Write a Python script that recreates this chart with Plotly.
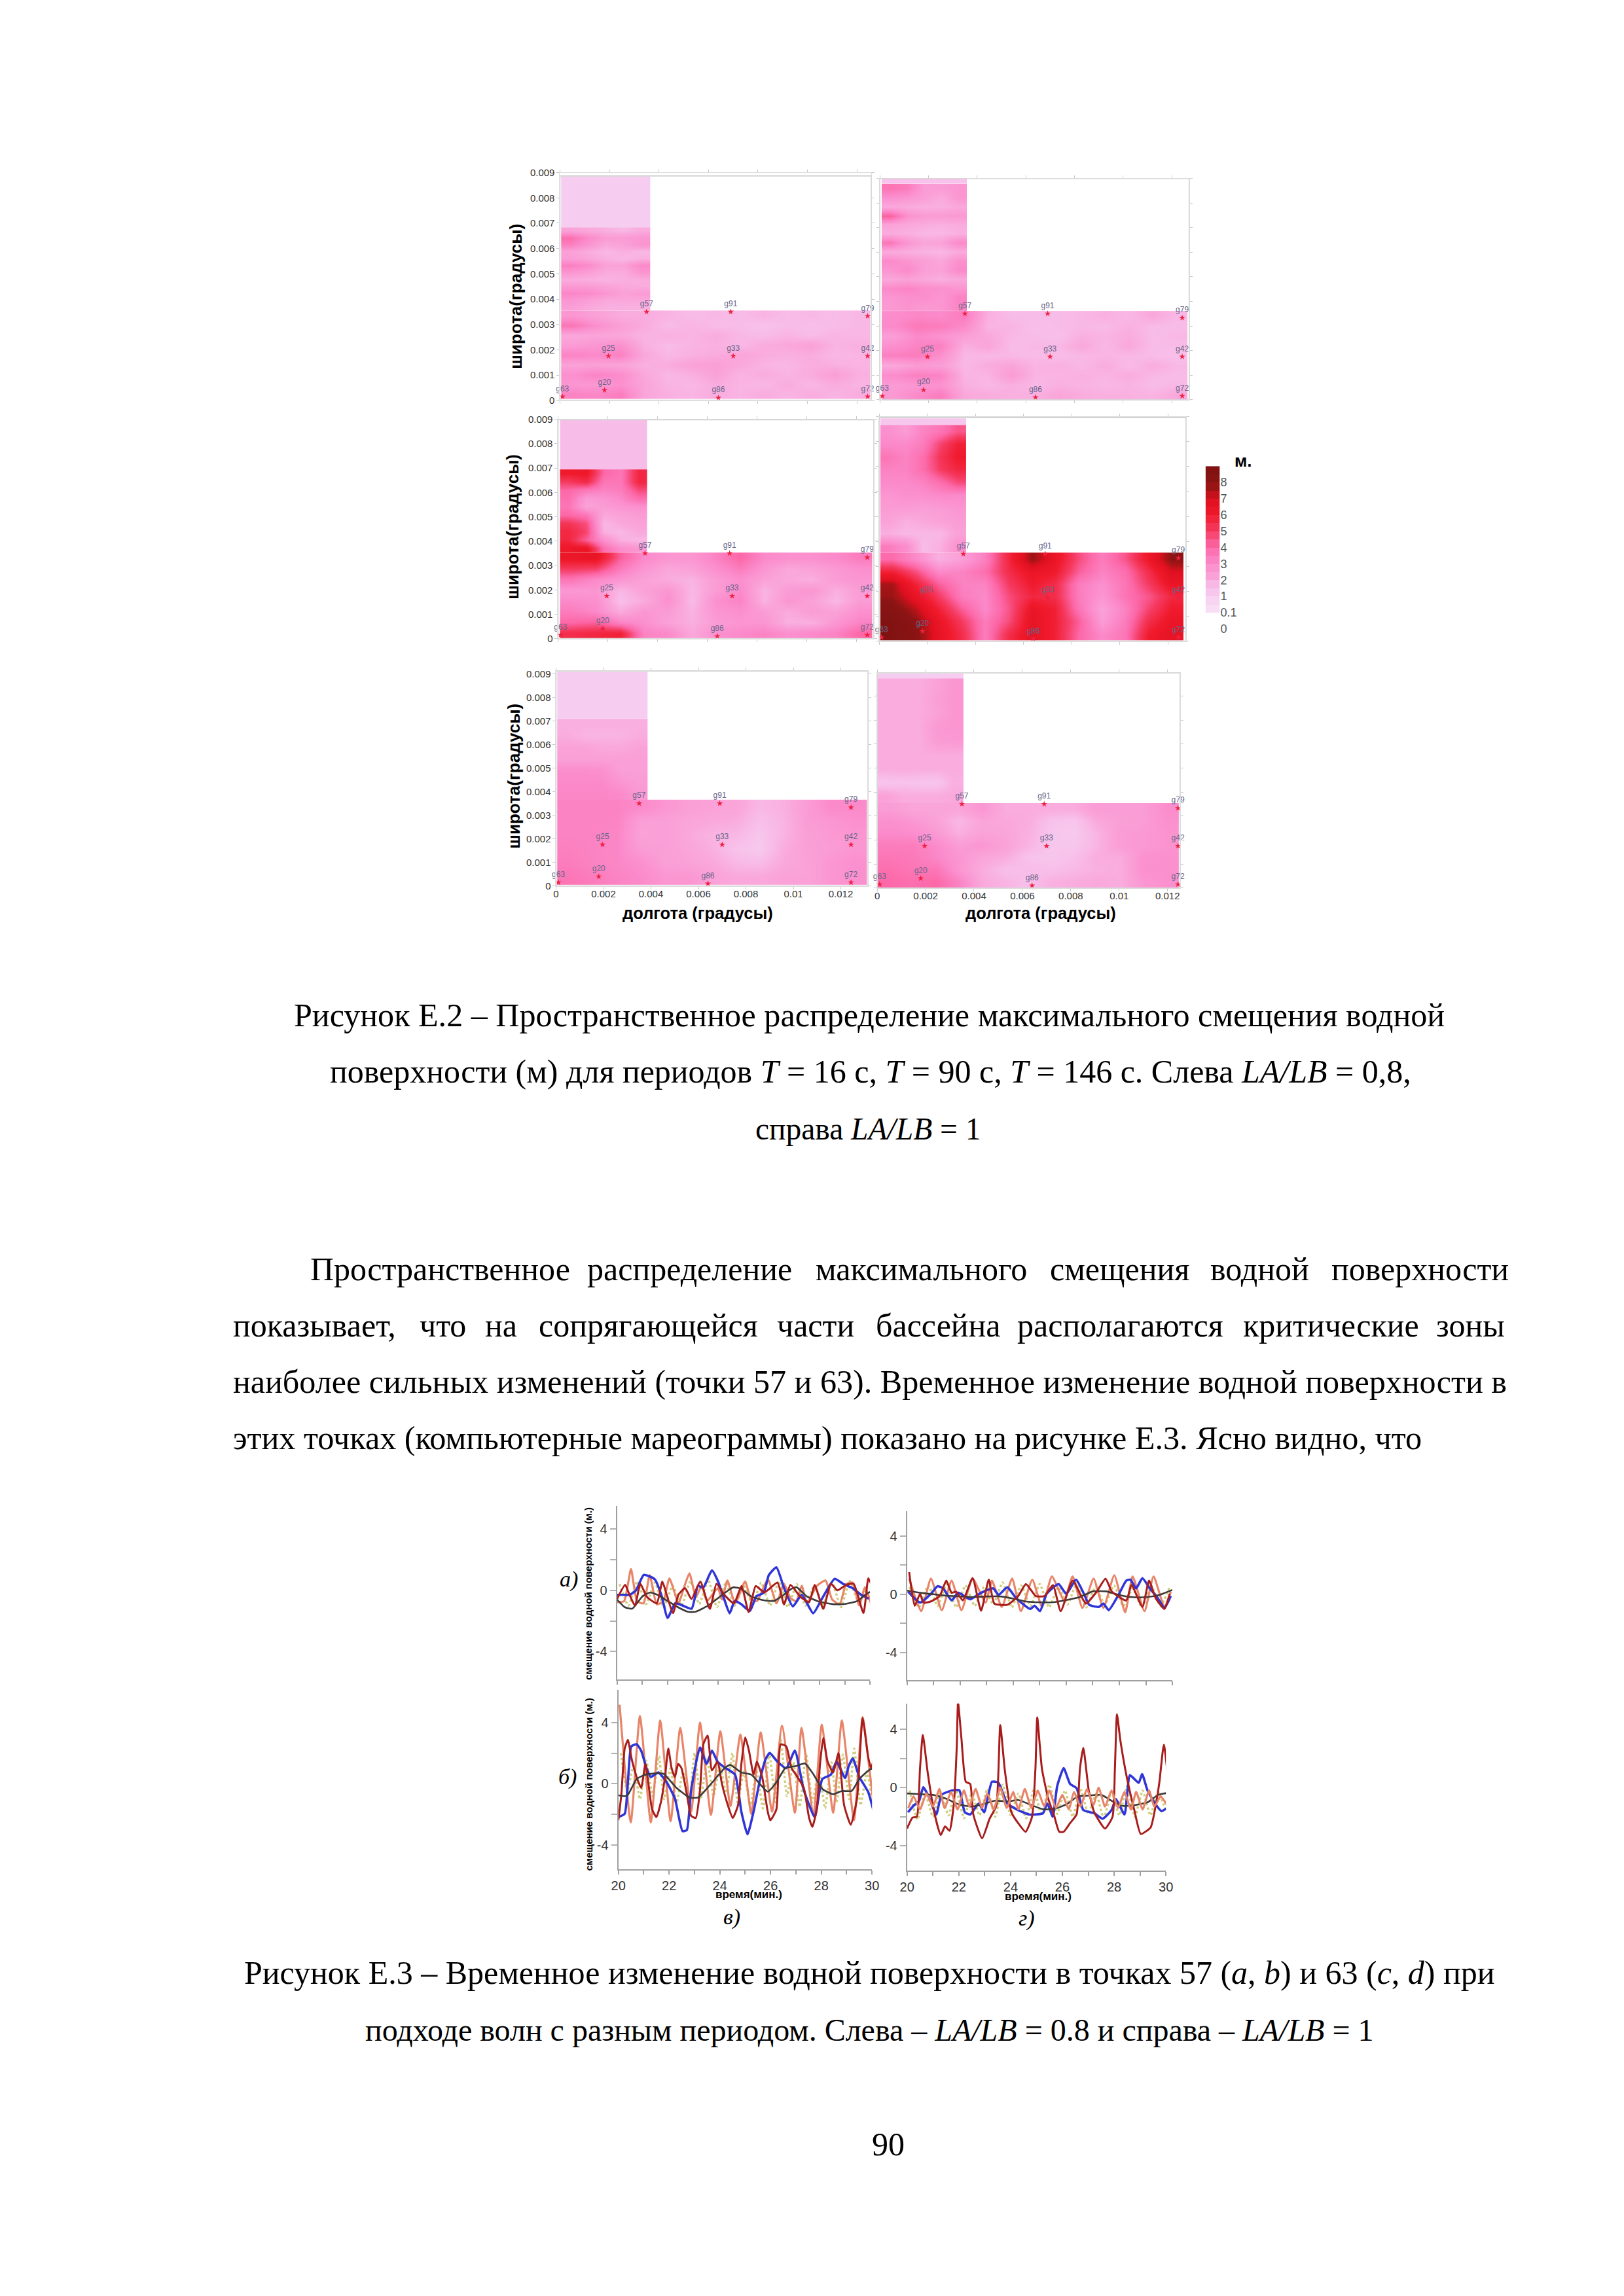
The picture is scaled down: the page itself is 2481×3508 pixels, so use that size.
import plotly.graph_objects as go

# ---------- maximum displacement maps (m), rows written top -> bottom ----------
p1_arm = [[2.2,2.0,1.8,1.6,1.9],[3.8,3.0,2.4,2.4,2.6],[3.3,2.6,2.0,2.2,2.6],[2.2,1.9,1.6,1.8,1.6],
          [2.4,2.1,1.8,1.6,1.8],[3.3,3.0,2.2,2.2,3.0],[2.6,2.3,1.9,1.9,2.6],[1.9,1.8,1.7,1.8,1.9],
          [2.5,2.4,2.2,2.0,1.9],[3.1,3.0,2.6,2.2,2.4],[2.6,2.3,2.0,2.0,2.0],[2.3,2.0,1.8,1.8,1.8]]
p1_base = [[2.6,2.2,1.9,1.9,1.7,1.5,1.6,1.5,1.7,1.5,1.6,1.5,1.6],
           [3.6,2.8,2.3,1.9,1.5,1.7,1.5,1.5,1.3,1.5,1.4,1.5,1.6],
           [2.0,2.1,2.0,1.7,1.8,1.7,1.9,1.6,1.5,1.7,1.5,1.7,1.6],
           [2.4,2.6,2.8,1.8,1.5,1.7,1.8,1.6,1.9,2.0,2.2,1.7,1.8],
           [3.2,3.0,3.3,2.0,1.6,1.8,1.9,2.1,1.9,1.8,1.9,1.6,1.7],
           [2.2,2.2,2.1,1.8,1.9,2.2,2.3,2.0,1.7,1.6,1.9,1.8,1.7],
           [2.8,3.2,2.9,2.0,1.6,1.8,2.2,1.7,1.9,1.7,1.9,2.3,1.8],
           [2.6,2.5,2.8,2.1,1.7,1.6,1.9,1.7,1.6,1.9,1.6,1.9,1.7],
           [3.2,3.1,3.4,2.1,1.8,1.7,1.9,1.7,1.9,1.7,1.9,1.7,1.9]]
p2_arm = [[3.6,3.4,2.4,2.4,2.6],[2.8,2.6,2.3,1.9,2.6],[2.0,1.9,1.8,1.8,2.0],[4.2,2.8,2.4,2.4,2.5],
          [2.2,2.0,1.9,1.8,1.9],[1.9,1.8,1.6,1.6,1.8],[3.6,2.6,2.1,2.2,3.0],[1.9,1.8,1.7,1.6,1.9],
          [3.0,2.6,2.3,2.0,2.8],[2.6,3.0,2.3,2.2,3.0],[2.0,2.2,2.0,1.8,2.0],[3.0,3.2,2.9,2.8,2.6],
          [2.6,2.8,2.9,2.6,3.2],[2.5,2.7,2.5,2.6,3.2]]
p2_base = [[2.9,3.1,3.0,3.4,1.8,1.5,1.5,1.5,1.6,1.8,1.6,2.0,1.6],
           [3.0,3.5,3.4,3.0,1.7,1.7,1.4,1.5,1.6,1.5,1.8,1.5,1.5],
           [2.3,3.0,2.7,2.3,2.0,1.6,1.5,1.4,1.8,1.7,1.9,1.5,1.6],
           [2.8,3.2,3.3,1.8,2.1,1.5,1.6,1.6,2.0,1.6,2.0,1.5,1.5],
           [3.3,3.4,2.8,1.6,1.6,1.6,1.5,1.5,1.6,1.7,1.6,1.5,1.4],
           [2.0,2.4,2.3,1.6,1.9,2.1,1.7,1.8,1.6,1.9,1.5,1.9,1.6],
           [2.9,3.3,3.2,1.7,1.7,2.4,1.7,1.7,1.8,1.7,1.9,1.6,1.5],
           [2.4,2.6,2.7,1.8,1.6,1.8,1.6,1.8,1.7,1.6,1.7,1.5,1.6],
           [2.5,3.0,3.4,2.0,1.9,1.8,1.8,2.1,1.9,1.8,1.8,1.7,2.0]]
p3_arm = [[6.0,6.2,4.0,3.6,5.6],[5.0,5.5,3.6,3.6,5.6],[4.0,3.5,3.2,3.4,4.6],[3.8,2.4,2.6,3.0,3.8],
          [3.6,2.2,2.4,2.6,2.8],[4.0,3.6,2.0,2.2,2.4],[5.2,4.6,1.6,2.0,2.2],[5.6,4.8,1.8,1.6,2.0],
          [5.6,4.2,2.8,1.8,1.6],[6.2,6.4,3.8,2.9,2.6]]
p3_base = [[6.3,6.5,4.2,3.0,2.6,2.6,3.2,4.0,3.0,2.8,2.8,3.0,3.4],
           [5.0,4.8,3.4,2.6,2.0,2.2,2.8,3.4,2.6,2.0,2.2,2.5,2.8],
           [3.6,3.0,2.6,2.2,1.9,1.7,2.4,2.8,2.2,2.0,1.8,2.4,2.6],
           [2.5,2.6,1.6,2.2,2.6,1.6,2.4,3.0,1.7,2.4,2.6,1.8,2.4],
           [3.0,2.8,1.4,1.9,2.8,1.5,2.8,3.2,1.7,2.6,2.2,1.6,2.4],
           [3.4,3.0,1.9,2.6,2.4,1.7,2.6,2.8,2.4,1.9,2.4,2.2,2.8],
           [4.0,4.2,3.2,2.8,2.2,1.8,2.4,2.6,2.6,1.8,1.8,2.6,3.2],
           [5.4,5.6,5.8,3.2,3.0,2.0,2.8,3.0,3.2,2.8,3.0,3.2,4.0]]
p4_arm = [[2.8,2.4,3.2,3.6,4.4],[3.0,3.0,3.4,4.8,5.8],[3.6,3.2,3.8,5.2,6.0],[3.2,3.2,3.8,5.0,5.6],
          [3.0,3.0,3.2,3.8,4.6],[2.6,2.8,2.8,3.0,3.0],[2.4,2.4,2.3,2.4,2.6],[2.2,1.8,2.0,2.2,2.4],
          [1.8,1.6,1.6,1.6,2.2],[3.4,2.9,1.5,1.8,2.8]]
p4_base = [[3.9,3.0,1.8,2.3,3.3,5.6,7.8,6.4,4.6,3.4,4.4,6.2,8.0],
           [5.8,4.6,3.0,3.2,3.8,5.4,6.4,6.0,4.2,3.2,3.8,5.4,7.0],
           [7.6,5.8,4.2,3.2,3.2,5.0,6.0,5.4,3.4,2.8,3.6,5.0,6.4],
           [7.8,6.6,5.0,3.4,3.0,4.6,5.6,5.4,3.4,2.6,3.6,4.4,5.6],
           [8.4,7.4,5.8,4.2,3.0,4.4,6.4,5.8,3.6,2.2,3.2,4.8,6.0],
           [8.8,8.0,6.4,5.0,3.4,4.6,6.6,5.8,4.2,2.4,3.4,5.4,6.4],
           [8.8,8.2,6.6,5.4,3.4,5.4,6.6,5.8,4.0,3.0,3.6,6.0,6.6]]
p5_arm = [[1.8,1.8,1.8,1.8,1.8],[1.9,1.7,1.7,1.7,1.9],[2.2,2.2,2.0,2.0,2.2],[2.3,2.3,2.3,2.3,2.3],
          [2.9,2.9,2.8,2.3,2.3],[3.0,3.0,3.0,2.6,2.4],[3.1,3.1,3.1,3.0,2.5]]
p5_base = [[3.2,3.2,3.2,3.0,2.6,2.3,2.2,2.1,1.6,1.8,2.4,3.0,3.0],
           [3.2,3.2,3.2,2.3,2.3,2.1,2.0,1.9,1.4,1.7,2.4,2.6,2.8],
           [3.2,3.2,3.1,2.2,2.3,2.0,1.7,1.6,1.2,1.7,2.3,2.5,2.6],
           [3.3,3.2,3.1,2.4,2.3,2.1,1.8,1.3,1.1,1.9,2.3,2.4,2.6],
           [3.4,3.2,3.1,2.8,2.3,2.2,2.0,1.6,1.5,2.0,2.2,2.6,2.8],
           [3.6,3.4,3.2,3.0,2.6,2.6,2.2,2.0,2.0,2.2,2.2,2.6,2.8]]
p6_arm = [[1.9,1.9,1.9,2.2,2.6],[1.9,1.9,1.9,2.3,2.6],[1.9,1.9,1.9,2.2,2.6],[1.9,1.9,1.9,2.5,2.6],
          [1.9,1.9,1.9,2.4,2.5],[1.9,1.9,1.9,1.9,1.9],[1.9,1.9,1.9,1.9,1.9],[1.2,1.3,1.2,1.2,1.8],
          [2.2,1.9,1.9,1.9,2.0]]
p6_base = [[2.4,2.1,2.1,2.1,2.6,1.9,1.9,1.9,1.9,2.4,2.4,2.4,2.9],
           [2.8,2.6,2.2,1.6,2.1,2.0,1.9,1.3,1.2,2.0,2.3,2.4,2.8],
           [3.0,2.9,2.5,1.8,2.2,2.1,1.8,1.2,1.1,1.7,2.4,2.5,2.7],
           [3.4,3.4,3.0,2.4,2.6,2.2,1.7,1.2,1.2,1.7,2.4,2.5,2.7],
           [3.6,3.5,3.1,2.6,2.1,1.9,1.3,1.2,1.4,1.9,1.9,2.8,2.8],
           [3.8,3.6,3.6,2.6,1.9,1.4,1.5,1.4,1.6,1.8,1.9,2.8,2.8],
           [4.0,3.8,4.0,3.2,2.0,1.7,1.4,1.8,1.9,2.0,1.9,2.6,2.8]]

gauge_names = ["g63","g20","g86","g72","g25","g33","g42","g57","g91","g79"]
gauge_lon = [.0001,.0018,.0064,.01243,.00196,.007,.01243,.0035,.0069,.01243]
gauge_lat = [.00015,.0004,.0001,.00015,.00175,.00175,.00175,.0035,.0035,.00333]
lat_ticks = [0,.001,.002,.003,.004,.005,.006,.007,.008,.009]
lat_labels = ["0","0.001","0.002","0.003","0.004","0.005","0.006","0.007","0.008","0.009"]
lon_ticks = [0,.002,.004,.006,.008,.01,.012]
lon_labels = ["0","0.002","0.004","0.006","0.008","0.01","0.012"]

# colour legend: level position, metres, tick labels
cb_pos = [1.25,1.75,2.25,2.75,3.25,3.75,4.25,4.75,5.25,5.75,6.25,6.75,7.25,7.75,8.25,8.75,9.25,9.75]
cb_val = [0.3,0.7,1.2,1.6,2.2,2.7,3.2,3.7,4.2,4.7,5.2,5.7,6.3,6.8,7.3,7.8,8.3,8.8]
cb_labels = ["0","0.1","1","2","3","4","5","6","7","8"]

# ---------- marigrams: time (min), displacement (m) ----------
a_blue_t = [20.0,20.3,20.5,20.75,21.05,21.3,21.5,21.75,22.0,22.3,22.6,22.95,23.2,23.4,23.75,24.0,24.2,24.45,24.65,24.9,25.25,25.5,25.8,26.0,26.3,26.6,26.95,27.3,27.75,28.1,28.6,28.95,29.3,29.65,29.95]
a_blue_v = [-.3,-.3,-.3,0,1.0,.9,.7,-.3,-1.8,-.85,-1.0,-1.2,.3,.15,1.3,.55,-.4,-1.5,-.7,-.9,-1.35,-.4,-.15,1.0,1.5,.15,-1.05,-.3,-1.5,-.55,.75,.4,.15,-.3,-.55]
a_black_t = [20,20.3,20.6,21,21.3,21.6,22,22.4,22.8,23.1,23.6,24,24.4,24.6,24.9,25.3,25.8,26.2,26.5,26.9,27.1,27.5,28,28.5,29,29.5,29.8,30]
a_black_v = [-.6,-1.1,-1.2,-.4,-.15,-.3,-.7,-1.1,-1.4,-1.4,-1.0,-.5,0,.2,.1,-.4,-.65,-.7,-.4,.1,.2,-.4,-.75,-.9,-.9,-.7,-.3,-.1]
a_dark_t = [20,20.32,20.49,20.71,20.92,21.18,21.57,21.79,21.96,22.21,22.43,22.69,22.94,23.29,23.67,23.93,24.23,24.62,24.92,25.2,25.48,25.82,26.34,26.6,26.85,27.25,27.59,27.81,28.15,28.45,28.71,29.05,29.35,29.74,29.93,30.04]
a_dark_v = [-.57,.35,-.28,-1.0,.43,-.43,-.85,.57,-.28,-1.49,-.28,.14,-.57,.57,-1.21,.43,-.28,-.85,.28,-1.42,.28,-.14,.5,-.92,.35,-.43,-.78,.35,-1.21,.43,0,.35,.43,-1.49,.78,.43]
a_salmon_t = [20,20.28,20.55,20.79,21.05,21.29,21.57,21.83,22.07,22.43,22.65,22.86,23.12,23.35,23.55,23.98,24.15,24.36,24.67,25.06,25.3,25.53,25.96,26.3,26.6,26.85,27.08,27.3,27.5,27.9,28.24,28.5,28.8,29.05,29.31,29.57,29.8,30.05]
a_salmon_v = [-.78,-.71,1.39,-.71,-.85,.99,-.92,-.71,.78,-.85,.2,1.11,-.43,.3,-.71,.14,-.6,.64,-.85,.57,-.6,-.71,.71,-.85,.43,-.5,-.71,.3,-.85,.3,.64,-.6,-.92,.4,.5,-.99,.2,-.92]
a_olive_t = [20.1,20.45,20.8,21.15,21.5,21.85,22.2,22.55,22.9,23.25,23.6,23.95,24.3,24.65,25,25.35,25.7,26.05,26.4,26.75,27.1,27.45,27.8,28.15,28.5,28.85,29.2,29.55,29.9]
a_olive_v = [.4,-1.0,.6,-.9,.5,-1.1,.3,-1.0,.6,-.9,.7,-1.1,.5,-1.0,.3,-.9,.5,-1.0,.6,-1.1,.4,-1.0,.3,-.9,.5,-1.1,.6,-.8,.2]

b_blue_t = [20,20.25,20.38,20.51,20.72,20.9,21.11,21.28,21.58,21.93,22.23,22.53,22.7,22.87,23.22,23.48,23.69,23.91,24.17,24.6,24.85,25.09,25.33,25.59,25.8,25.97,26.27,26.62,26.96,27.31,27.74,28.04,28.38,28.6,28.94,29.07,29.24,29.5,29.85,30.19,30.32]
b_blue_v = [-2.17,-1.96,.17,2.44,2.58,2.16,1.02,.45,.74,.03,-.96,-3.09,-3.02,-.4,2.37,1.3,2.16,1.45,1.09,.6,-1.82,-3.3,-1.82,.31,1.59,2.01,1.45,1.02,2.16,-.4,-2.17,.31,.6,1.45,.38,1.09,1.66,.45,-.54,-2.38,-1.74]
b_black_t = [20,20.34,20.72,21.07,21.76,22.29,22.8,23.15,23.67,24.19,24.41,24.85,25.24,25.89,26.23,26.58,27.01,27.35,27.7,28.04,28.47,28.81,29.2,29.5,29.93,30.19]
b_black_v = [-.75,-.79,.31,.6,.67,-.26,-.89,-.89,.03,1.02,1.23,.74,.6,-.51,.1,1.02,1.16,1.33,.6,-.33,-.68,-.47,-.47,.31,.95,.99]
b_salmon_t = [20.05,20.49,20.85,21.28,21.65,22.06,22.44,22.87,23.22,23.65,24.02,24.42,24.81,25.24,25.61,26.06,26.45,26.96,27.22,27.69,28.02,28.47,28.81,29.29,29.63,30.1,30.34]
b_salmon_v = [5.16,-2.52,4.43,-2.52,4.14,-2.45,3.65,-1.82,4.0,-2.03,3.43,-1.46,3.22,-1.96,3.36,-1.82,3.79,-1.89,3.65,-2.1,3.86,-1.89,4.14,-2.38,4.35,-1.5,2.2]
b_dark_t = [20,20.12,20.25,20.38,20.51,20.72,20.9,21.07,21.33,21.5,21.67,21.84,21.97,22.1,22.23,22.36,22.49,22.7,22.87,23.05,23.22,23.35,23.52,23.69,23.91,24.08,24.29,24.51,24.72,24.85,25.0,25.15,25.33,25.46,25.67,25.89,25.99,26.23,26.4,26.62,26.83,27.0,27.31,27.52,27.65,27.82,27.95,28.08,28.25,28.47,28.68,28.9,29.16,29.41,29.63,29.85,29.97,30.15,30.32]
b_dark_v = [-2.38,-.68,2.3,2.87,1.73,.45,-.26,1.3,-1.67,-2.17,-1.25,.45,2.3,1.02,.45,1.3,1.02,-.68,-2.09,-2.23,-.4,2.58,3.15,.88,1.45,.03,-1.25,-2.23,-1.39,1.3,3.03,2.16,.6,1.45,.45,-1.82,-2.38,-1.67,2.58,2.44,1.02,.6,-.26,-2.23,-2.81,-1.67,1.3,3.0,1.45,.74,2.01,-1.39,-2.67,-.96,4.28,1.73,1.02,2.16,.03]
b_olive_t = [20.1,20.35,20.6,20.85,21.1,21.35,21.6,21.8,22.05,22.3,22.55,22.8,23.0,23.25,23.5,23.75,24.0,24.25,24.5,24.7,24.95,25.2,25.45,25.7,25.95,26.2,26.4,26.65,26.9,27.15,27.4,27.65,27.9,28.15,28.4,28.6,28.85,29.1,29.3,29.55,29.8,30.05]
b_olive_v = [2.0,-.5,1.2,-1.0,1.5,-.8,1.8,-1.0,1.0,-1.2,.8,-1.4,2.0,-1.0,1.6,-.8,1.2,-.6,2.0,-1.2,.8,-1.4,.8,-1.6,2.0,-1.2,2.9,-.8,1.4,-1.5,2.0,-1.2,.9,-1.6,1.4,-1.2,1.9,-1.0,2.3,-1.4,.8,-1.6]

c_blue_t = [20.04,20.49,20.9,21.15,21.36,21.68,21.93,22.38,22.79,23.25,23.45,23.78,24.11,24.64,24.81,25.01,25.26,25.71,26.0,26.37,26.74,26.86,27.23,27.4,27.6,27.97,28.26,28.42,28.63,28.87,29.12,29.45,29.7,29.94]
c_blue_v = [.18,-.57,.03,.55,.4,-.42,.1,-.34,.1,.4,-.04,.48,-.27,-1.01,-.79,-1.16,.03,.7,.03,1.0,-.27,-.72,-.87,-.64,-1.09,-.04,.93,1.0,.4,1.1,.48,-.27,-.94,-.12]
c_black_t = [20,20.5,21,21.5,22,22.5,23,23.5,24,24.5,25,25.5,26,26.5,27,27.5,28,28.5,29,29.5,30]
c_black_v = [.25,.1,0,-.1,-.15,-.2,-.15,-.15,-.3,-.5,-.55,-.55,-.4,-.2,.2,.2,-.05,-.2,-.2,-.05,.3]
c_dark_t = [20.08,20.29,20.49,20.62,20.9,21.23,21.48,21.68,21.85,22.1,22.47,22.79,23.08,23.29,23.78,24.19,24.48,24.85,25.18,25.5,25.79,26.24,26.74,27.15,27.48,27.72,28.26,28.46,28.87,29.12,29.37,29.7,29.9]
c_dark_v = [1.52,-.79,.03,-.57,-.49,-.12,.93,.1,.18,-.42,1.1,-1.13,1.0,-.64,-.72,-.12,.7,-.12,-.12,.63,-1.16,.93,-.64,.18,1.07,.18,-.42,.63,-.87,.93,-.27,-1.01,.03]
c_salmon_t = [20.08,20.53,20.9,21.31,21.68,22.05,22.47,22.96,23.2,23.57,23.96,24.29,24.72,25.09,25.46,25.92,26.24,26.61,27.03,27.4,27.81,28.22,28.5,28.95,29.29,29.7,29.94]
c_salmon_v = [1.07,-1.16,1.07,-1.09,.93,-1.09,1.07,-.57,.93,-.87,1.07,-1.16,1.0,-.87,1.22,-.42,1.22,-.94,1.07,-.94,1.3,-1.24,1.22,-1.16,1.22,-.87,.18]
c_olive_t = [20.1,20.45,20.8,21.15,21.5,21.85,22.2,22.55,22.9,23.25,23.6,23.95,24.3,24.65,25,25.35,25.7,26.05,26.4,26.75,27.1,27.45,27.8,28.15,28.5,28.85,29.2,29.55,29.9]
c_olive_v = [.5,-.9,.6,-.8,.7,-.9,.6,-.8,.5,-.7,.8,-.9,.6,-.8,.7,-.9,.5,-.7,.8,-.9,.5,-.7,.6,-.8,.4,-.9,.6,-.8,.5]

d_blue_t = [20.04,20.25,20.46,20.63,20.8,21.01,21.13,21.34,21.76,22.02,22.23,22.44,22.77,22.98,23.28,23.53,23.87,24.29,24.71,24.96,25.25,25.42,25.63,25.8,26.05,26.3,26.55,26.81,27.23,27.56,27.9,28.07,28.4,28.61,28.95,29.08,29.29,29.58,29.83,30.08,30.24]
d_blue_v = [-1.69,-1.24,-.94,.03,-.49,-1.39,-1.84,-.49,-.19,-.19,-1.69,-1.84,-1.09,-1.69,.4,.33,-1.09,-1.54,-1.84,-1.84,-1.76,-1.09,-2.0,.1,1.33,.25,-.04,-1.54,-1.76,-2.13,-1.54,-.79,-1.84,.85,.33,.93,-.19,-1.09,-1.61,-1.39,-1.61]
d_black_t = [20,20.5,21,21.5,22,22.5,23,23.4,23.9,24.3,24.8,25.3,25.8,26.2,26.6,27,27.5,27.9,28.3,28.8,29.3,29.7,30.1]
d_black_v = [-.4,-.45,-.5,-.75,-1.15,-1.3,-1.1,-.9,-.95,-.85,-1.2,-1.5,-1.4,-1.1,-.6,-.55,-.5,-.9,-1.25,-1.2,-1.0,-.5,-.35]
d_dark_t = [20,20.21,20.38,20.5,20.61,20.8,21.05,21.3,21.47,21.64,21.81,21.92,21.97,22.1,22.27,22.44,22.56,22.9,23.19,23.45,23.6,23.78,24.03,24.29,24.58,24.83,24.96,25.03,25.21,25.46,25.67,25.88,26.05,26.3,26.55,26.68,26.81,27.02,27.23,27.65,27.94,28.03,28.11,28.24,28.49,28.78,29.03,29.41,29.62,29.75,29.92,30.13]
d_dark_v = [-2.81,-2.06,-1.99,1.3,3.61,1.0,-1.69,-3.25,-2.66,-2.96,-1.09,2.79,5.85,3.39,.4,.25,-1.84,-3.48,-2.13,-1.24,4.28,1.15,-1.69,-2.43,-3.03,-1.99,1.3,4.81,1.3,-.79,-1.84,-3.03,-3.03,-2.43,-1.84,1.3,2.72,-.19,-1.69,-2.81,-1.99,1.3,5.03,3.24,.7,-1.54,-3.18,-2.73,-1.09,.4,2.94,-.19]
d_salmon_t = [20.05,20.25,20.5,20.75,21.0,21.25,21.45,21.7,21.95,22.2,22.4,22.65,22.9,23.1,23.35,23.6,23.85,24.1,24.3,24.55,24.8,25.05,25.3,25.5,25.75,26.0,26.25,26.45,26.7,26.95,27.2,27.4,27.65,27.9,28.15,28.4,28.65,28.85,29.1,29.35,29.55,29.8,30.05,30.2]
d_salmon_v = [-1.4,-.6,-1.5,-.4,-1.3,-.1,-1.4,-.3,-1.5,-.2,-1.3,-.1,-1.4,-.4,-1.5,.0,-1.4,-.3,-1.5,-.1,-1.4,-.2,-1.3,-.2,-1.4,-.5,-1.5,-.3,-1.3,-.1,-1.2,0,-1.3,-.2,-1.4,-.3,-1.5,-.3,-1.5,-.2,-1.3,-.6,-1.2,-1.4]
d_olive_t = [20.1,20.4,20.7,21,21.3,21.6,21.9,22.2,22.5,22.8,23.1,23.4,23.7,24,24.3,24.6,24.9,25.2,25.5,25.8,26.1,26.4,26.7,27,27.3,27.6,27.9,28.2,28.5,28.8,29.1,29.4,29.7,30]
d_olive_v = [-.2,-2.2,-.4,-2.0,-.3,-1.9,-.2,-2.1,-.4,-1.9,-.1,-2.0,.2,-1.9,-.4,-2.1,-.1,-1.9,.2,-1.8,-.2,-2.0,-.1,-1.8,-.4,-2.1,-.3,-1.9,.1,-2.0,-.2,-1.9,-.3,-1.6]

minutes = [20,21,22,23,24,25,26,27,28,29,30]
minute_labels = ["20","","22","","24","","26","","28","","30"]
disp_ticks = [-4,-2,0,2,4]
disp_labels = ["-4","","0","","4"]

W, H = 2481, 3508
SERIF, SANS = "Liberation Serif", "Liberation Sans"
colorscale = [[0,"#ffffff"],[.1/9,"#f9e3f6"],[1/9,"#f6ccf0"],[1.5/9,"#f8bce8"],[2/9,"#faa8dc"],[3/9,"#fb8aca"],
              [4/9,"#fc68a8"],[5/9,"#f53a60"],[6/9,"#f01a2c"],[7/9,"#e01020"],[7.5/9,"#b01418"],[8/9,"#8c1414"],[1,"#801212"]]
COL = dict(olive="#cfcf80", salmon="#e88468", black="#3a3a3a", blue="#2f35d8", dark="#a81c1c")

fig = go.Figure()
layout = dict(width=W, height=H, margin=dict(l=0, r=0, t=0, b=0), paper_bgcolor="white", plot_bgcolor="white",
              showlegend=False, annotations=[], shapes=[])


def centers(lo, hi, n):
    return [lo + (hi - lo) * (i + .5) / n for i in range(n)]


def axes(n, px0, px1, py_top, py_bot, xr, yr, xopt, yopt):
    s = "" if n == 1 else str(n)
    layout["xaxis" + s] = dict(domain=[px0 / W, px1 / W], range=xr, anchor="y" + s, zeroline=False, showgrid=False, **xopt)
    layout["yaxis" + s] = dict(domain=[1 - py_bot / H, 1 - py_top / H], range=yr, anchor="x" + s, zeroline=False, showgrid=False, **yopt)
    return "x" + s, "y" + s


def note(text, px, py, size, family=SANS, color="#000", angle=0, xanchor="center"):
    layout["annotations"].append(dict(text=text, x=px / W, y=1 - py / H, xref="paper", yref="paper", showarrow=False,
                                      xanchor=xanchor, yanchor="middle", textangle=angle,
                                      font=dict(family=family, size=size, color=color)))


def heat(xa, ya, xs, ys, z):
    fig.add_trace(go.Heatmap(x=xs, y=ys, z=z, xaxis=xa, yaxis=ya, zsmooth="best", zmin=0, zmax=9, colorscale=colorscale,
                             showscale=False, hoverinfo="skip"))


def map_panel(n, px0, px1, py_top, py_bot, xmax, ymax, left, right, arm, hor, bottom, top, band_low, band_val, frame_top,
              arm_z, base_z, ylab, xlab):
    tickfont = dict(family=SANS, size=15, color="#333")
    xopt = dict(showline=True, linecolor="#dcdcdc", linewidth=1, mirror="ticks", ticks="outside", ticklen=4, tickcolor="#c8c8c8",
                tickvals=lon_ticks, ticktext=lon_labels, showticklabels=xlab, tickfont=tickfont, ticklabelstandoff=-6)
    yopt = dict(showline=True, linecolor="#dcdcdc", linewidth=1, mirror="ticks", ticks="outside", ticklen=4, tickcolor="#c8c8c8",
                tickvals=lat_ticks, ticktext=lat_labels, showticklabels=ylab, tickfont=tickfont)
    xa, ya = axes(n, px0, px1, py_top, py_bot, [0, xmax], [0, ymax], xopt, yopt)
    heat(xa, ya, centers(left, arm, len(arm_z[0])), centers(hor, band_low, len(arm_z)), arm_z[::-1])
    heat(xa, ya, centers(left, right, len(base_z[0])), centers(bottom, hor, len(base_z)), base_z[::-1])
    heat(xa, ya, centers(left, arm, 2), centers(band_low, top, 2), [[band_val, band_val], [band_val, band_val]])
    layout["shapes"].append(dict(type="rect", xref=xa, yref=ya, x0=0, x1=xmax, y0=0, y1=frame_top,
                                 line=dict(color="#d4d4d4", width=2), layer="above"))
    fig.add_trace(go.Scatter(x=gauge_lon, y=gauge_lat, text=gauge_names, xaxis=xa, yaxis=ya, mode="markers+text",
                             textposition="top center", hoverinfo="skip", cliponaxis=False,
                             marker=dict(symbol="star", size=7, color="#ee2040"),
                             textfont=dict(family=SANS, size=12, color="#66668a")))


map_panel(1, 852, 1332, 256, 606, .01258, .009, .00005, .01253, .00364, .00355, .00005, .00885, .00684, 1.0, .00887, p1_arm, p1_base, True, False)
map_panel(2, 1345, 1822, 265, 605, .01272, .009, .00008, .01265, .00357, .00361, 0, .009, .00878, 1.3, .009, p2_arm, p2_base, False, False)
map_panel(3, 849, 1336, 635, 972, .0127, .009, .00008, .01262, .00358, .00353, 0, .00898, .00695, 1.5, .00898, p3_arm, p3_base, True, False)
map_panel(4, 1344, 1817, 631, 976, .01275, .009, .00005, .01265, .00361, .00355, .00003, .00893, .00867, 1.2, .00896, p4_arm, p4_base, False, False)
map_panel(5, 846, 1327, 1022, 1352, .01315, .00911, .00005, .0131, .00385, .00366, .00006, .0091, .00709, 1.0, .0091, p5_arm, p5_base, True, True)
map_panel(6, 1341, 1808, 1025, 1355, .01252, .00896, .00002, .01247, .00355, .00354, 0, .00896, .00875, 1.0, .00896, p6_arm, p6_base, False, True)

for lab_y, lab_x in ((446, 784), (800, 779), (1183, 781)):
    note("<b>широта(градусы)</b>", lab_x, lab_y, 26, angle=-90)
note("<b>долгота (градусы)</b>", 1064, 1394, 25.5)
note("<b>долгота (градусы)</b>", 1593, 1394, 25.5)

# colour legend
xa, ya = axes(7, 1847, 1869, 707, 957, [-.5, .5], [0, 10],
              dict(visible=False),
              dict(side="right", tickvals=list(range(10)), ticktext=cb_labels, ticks="", showline=False,
                   tickfont=dict(family=SANS, size=18, color="#555")))
fig.add_trace(go.Heatmap(x=[0], y=cb_pos, z=[[v] for v in cb_val], xaxis=xa, yaxis=ya, zmin=0, zmax=9, colorscale=colorscale,
                         showscale=False, hoverinfo="skip"))
note("<b>м.</b>", 1905, 699, 26)


def marigram(n, px0, px1, py_top, py_bot, ylo, yhi, series, xlab):
    tickfont = dict(family=SANS, size=20, color="#333")
    xopt = dict(showline=True, linecolor="#a0a0a0", linewidth=2, ticks="outside", ticklen=6, tickcolor="#a0a0a0", tickwidth=2,
                tickvals=minutes, ticktext=minute_labels, showticklabels=xlab, tickfont=tickfont, side="bottom")
    yopt = dict(showline=True, linecolor="#a0a0a0", linewidth=2, ticks="outside", ticklen=9, tickcolor="#b0b0b0", tickwidth=2,
                tickvals=disp_ticks, ticktext=disp_labels, tickfont=dict(family=SANS, size=20, color="#333"))
    xa, ya = axes(n, px0, px1, py_top, py_bot, [20, 30], [ylo, yhi], xopt, yopt)
    for name, t, v in series:
        dash = "dot" if name == "olive" else "solid"
        width = dict(olive=3.5, salmon=3.2, black=2.6, blue=3.6, dark=3)[name]
        fig.add_trace(go.Scatter(x=t, y=v, xaxis=xa, yaxis=ya, mode="lines", cliponaxis=False, hoverinfo="skip",
                                 line=dict(color=COL[name], width=width, dash=dash, shape="spline", smoothing=.5)))


marigram(8, 940, 1330, 2304, 2571, -5.83, 5.53, [("olive", a_olive_t, a_olive_v), ("salmon", a_salmon_t, a_salmon_v),
         ("blue", a_blue_t, a_blue_v), ("black", a_black_t, a_black_v), ("dark", a_dark_t, a_dark_v)], False)
marigram(9, 942, 1333, 2587, 2863, -5.6, 6.13, [("olive", b_olive_t, b_olive_v), ("salmon", b_salmon_t, b_salmon_v),
         ("blue", b_blue_t, b_blue_v), ("dark", b_dark_t, b_dark_v), ("black", b_black_t, b_black_v)], True)
marigram(10, 1387, 1796, 2313, 2572, -5.89, 5.67, [("olive", c_olive_t, c_olive_v), ("salmon", c_salmon_t, c_salmon_v),
         ("blue", c_blue_t, c_blue_v), ("black", c_black_t, c_black_v), ("dark", c_dark_t, c_dark_v)], False)
marigram(11, 1387, 1786, 2608, 2865, -5.71, 5.76, [("olive", d_olive_t, d_olive_v), ("blue", d_blue_t, d_blue_v),
         ("black", d_black_t, d_black_v), ("dark", d_dark_t, d_dark_v), ("salmon", d_salmon_t, d_salmon_v)], True)

note("<b>смещение водной поверхности (м.)</b>", 896, 2439, 15, angle=-90)
note("<b>смещение водной поверхности (м.)</b>", 896, 2732, 15, angle=-90)
note("<b>время(мин.)</b>", 1143, 2901, 17)
note("<b>время(мин.)</b>", 1589, 2904, 17)
note("<i>а)</i>", 866, 2417, 34, SERIF)
note("<i>б)</i>", 864, 2721, 34, SERIF)
note("<i>в)</i>", 1117, 2936, 34, SERIF)
note("<i>г)</i>", 1571, 2938, 34, SERIF)

# page text
BODY = 50
note("Рисунок Е.2 – Пространственное распределение максимального смещения водной", 1329, 1550, 50.1, SERIF)
note("поверхности (м) для периодов <i>T</i> = 16 с, <i>T</i> = 90 с, <i>T</i> = 146 с. Слева <i>LA/LB</i> = 0,8,", 1331, 1637, BODY, SERIF)
note("справа <i>LA/LB</i> = 1", 1327, 1725, 47.5, SERIF)
for word, x in (("Пространственное", 465), ("распределение", 892), ("максимального", 1244), ("смещения", 1605),
                ("водной", 1852), ("поверхности", 2039)):
    note(word, x, 1941, BODY, SERIF, xanchor="left")
for word, x in (("показывает,", 346), ("что", 634), ("на", 735), ("сопрягающейся", 817), ("части", 1184),
                ("бассейна", 1337), ("располагаются", 1555), ("критические", 1903), ("зоны", 2201)):
    note(word, x, 2027, BODY, SERIF, xanchor="left")
note("наиболее сильных изменений (точки 57 и 63). Временное изменение водной поверхности в", 346, 2113, 50.1, SERIF, xanchor="left")
note("этих точках (компьютерные мареограммы) показано на рисунке Е.3. Ясно видно, что", 346, 2200, 50.2, SERIF, xanchor="left")
note("Рисунок Е.3 – Временное изменение водной поверхности в точках 57 (<i>a</i>, <i>b</i>) и 63 (<i>c</i>, <i>d</i>) при", 1329, 3021, BODY, SERIF)
note("подходе волн с разным периодом. Слева – <i>LA/LB</i> = 0.8 и справа – <i>LA/LB</i> = 1", 1329, 3109, 48, SERIF)
note("90", 1358, 3285, BODY, SERIF)

fig.update_layout(**layout)
fig.write_html("out.html", config=dict(displayModeBar=False),
               post_script="document.body.style.margin='0';")
